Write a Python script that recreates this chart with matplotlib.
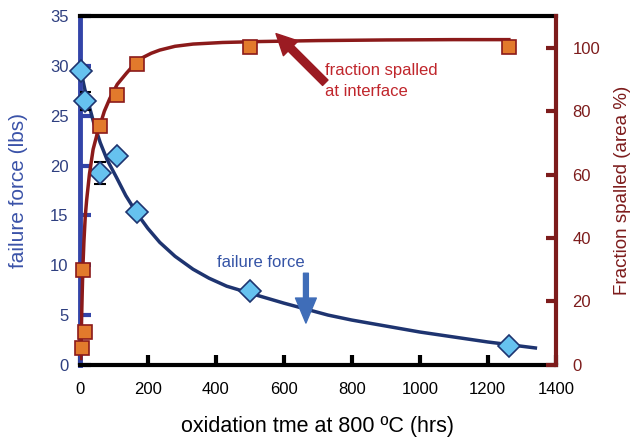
import matplotlib
matplotlib.use('Agg')
import matplotlib.pyplot as plt

plt.rcParams['font.family'] = ['Liberation Sans', 'DejaVu Sans']

# failure force measurements (lbs)
force_x = [2, 15, 59, 108, 168, 500, 1262]
force_y = [29.5, 26.5, 19.3, 21.0, 15.3, 7.4, 1.9]
force_err = [0.3, 0.9, 1.1, 0, 0, 0, 0]

# failure force fit curve
force_fit_x = [5, 15, 25, 40, 60, 80, 108, 135, 168, 200, 235, 280, 333, 380, 432, 500,
               560, 600, 665, 730, 800, 900, 1000, 1100, 1200, 1270, 1340]
force_fit_y = [29.2, 27.6, 26.3, 24.4, 22.3, 20.6, 18.8, 17.0, 15.2, 13.7, 12.3, 10.9, 9.6,
               8.7, 7.9, 7.2, 6.6, 6.2, 5.6, 5.0, 4.5, 3.9, 3.3, 2.8, 2.3, 2.0, 1.7]

# fraction spalled measurements (area %)
frac_x = [6, 9, 15, 59, 108, 168, 500, 1262]
frac_y = [5.4, 30, 10.5, 75.5, 85, 95, 100.3, 100.3]

# fraction spalled fit curve
frac_fit_x = [3, 4, 5, 7, 9, 12, 16, 20, 28, 39, 50, 59, 72, 88, 110, 137, 160, 186, 210,
              235, 280, 333, 420, 530, 700, 900, 1100, 1262]
frac_fit_y = [2, 8, 14, 23, 31, 39, 47, 52, 60, 68, 72.5, 75.5, 80, 84, 88.5, 92, 94.8, 97,
              98.3, 99.3, 100.5, 101.2, 101.7, 102, 102.3, 102.5, 102.6, 102.6]

blue = '#3344a8'
navy = '#1e3470'
maroon = '#7d1c1c'

fig = plt.figure(figsize=(6.44, 4.37), dpi=100)
ax1 = fig.add_axes([0.124, 0.165, 0.739, 0.798])
ax2 = ax1.twinx()

# failure force
ax1.plot(force_fit_x, force_fit_y, '-', color=navy, linewidth=2.5, zorder=2)
ax1.errorbar(force_x, force_y, yerr=force_err, fmt='none', ecolor='black',
             elinewidth=1.2, capsize=4, capthick=1.5, zorder=3)
ax1.plot(force_x, force_y, 'D', markersize=11, markerfacecolor='#66c2ef',
         markeredgecolor=navy, markeredgewidth=1.2, linestyle='none', zorder=4,
         clip_on=False)

# fraction spalled
ax2.plot(frac_fit_x, frac_fit_y, '-', color='#8b1a1a', linewidth=2.5, zorder=2)
ax2.plot(frac_x, frac_y, 's', markersize=9.5, markerfacecolor='#e27a2c',
         markeredgecolor='#8b1a1a', markeredgewidth=1.2, linestyle='none', zorder=4,
         clip_on=False)

ax1.set_xlim(0, 1400)
ax1.set_ylim(0, 35)
ax2.set_ylim(0, 110)
ax1.set_xticks(range(0, 1401, 200))
ax1.set_yticks(range(0, 36, 5))
ax2.set_yticks(range(0, 101, 20))

# spines
for s in ['top', 'bottom']:
    ax1.spines[s].set_color('black')
    ax1.spines[s].set_linewidth(3)
ax1.spines['left'].set_color(blue)
ax1.spines['left'].set_linewidth(3.5)
ax2.spines['right'].set_color(maroon)
ax2.spines['right'].set_linewidth(3)
for s in ['top', 'bottom', 'left']:
    ax2.spines[s].set_visible(False)
ax1.spines['right'].set_visible(False)

ax1.tick_params(axis='x', direction='in', length=7, width=3, color='black',
                labelsize=12, pad=12)
ax1.tick_params(axis='y', direction='in', length=8, width=3, color=blue,
                labelsize=12, labelcolor='#2e3f80', pad=8)
ax2.tick_params(axis='y', direction='in', length=7, width=3, color=maroon,
                labelsize=12, labelcolor=maroon, pad=12)

ax1.set_xlabel('oxidation tme at 800 ºC (hrs)', fontsize=15.5, labelpad=14)
ax1.set_ylabel('failure force (lbs)', fontsize=15, color='#3a52a8', labelpad=16)
ax2.set_ylabel('Fraction spalled (area %)', fontsize=13.5, color=maroon, labelpad=10)

# annotations
ax2.annotate('', xy=(577, 104.5), xytext=(722, 89),
             arrowprops=dict(arrowstyle='simple,head_length=1.5,head_width=1.5,tail_width=0.55',
                             color='#9b1b22', shrinkA=0, shrinkB=0))
ax2.text(722, 89.6, 'fraction spalled\nat interface', fontsize=12, color='#c0262c',
         ha='left', va='center', linespacing=1.5)

ax1.annotate('', xy=(665, 4.2), xytext=(665, 9.2),
             arrowprops=dict(arrowstyle='simple,head_length=1.8,head_width=1.5,tail_width=0.35',
                             color='#3f6db8', shrinkA=0, shrinkB=0))
ax1.text(532, 10.3, 'failure force', fontsize=12, color='#3554a6', ha='center', va='center')

fig.savefig('out.png', dpi=100)
